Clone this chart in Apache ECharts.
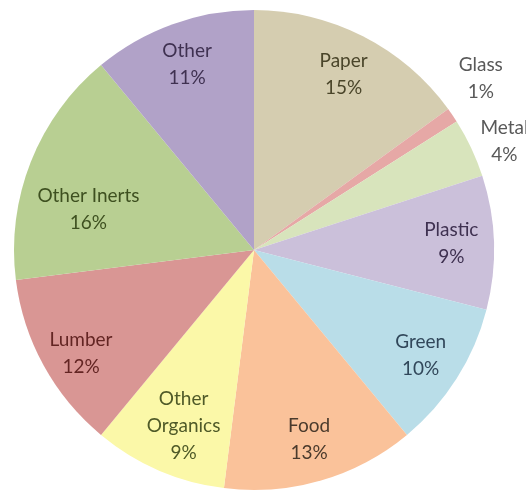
<!DOCTYPE html>
<html>
<head>
<meta charset="utf-8">
<script src="https://cdn.jsdelivr.net/npm/echarts@6/dist/echarts.min.js"></script>
<style>html,body{margin:0;padding:0;background:#fff;}#c{width:526px;height:502px;}</style>
</head>
<body>
<div id="c"></div>
<script>
const categories = ['Paper','Glass','Metal','Plastic','Green','Food','Other\nOrganics','Lumber','Other Inerts','Other'];
const values = [15,1,4,9,10,13,9,12,16,11];
const colors = ['#d5cdb0','#e6a8a6','#d8e4bc','#cbc0da','#b9dde8','#fac29a','#fbf8a8','#d99694','#b8cf92','#b1a2c8'];
const textColors = ['#4a452a','#595959','#595959','#3f3151','#31475a','#4a3a2c','#4f5a28','#632523','#3e5020','#3f3151'];
const outsideIdx = [1,2];
// small label nudges (dx, dy) matching the reference placement
const labelNudge = {1:[-4,-15], 2:[-2,10], 6:[8,-5], 7:[0,8], 8:[18,32]};

const chart = echarts.init(document.getElementById('c'));
const center = [254, 250];
const R = 240;
const base = categories.map((n,i)=>({name:n, value:values[i]}));
const font = {fontFamily:'Lato', fontSize:19, lineHeight:27};
const nudge = function(p){
  const n = labelNudge[p.dataIndex];
  return n ? {dx:n[0], dy:n[1]} : {};
};

chart.setOption({
  animation:false,
  series:[
    {
      type:'pie', center:center, radius:[0,R], startAngle:90, clockwise:true,
      label:{show:false}, labelLine:{show:false}, silent:true,
      data: base.map((d,i)=>({...d, itemStyle:{color:colors[i], borderWidth:0}}))
    },
    {
      type:'pie', center:center, radius:[R*0.62,R], startAngle:90, clockwise:true,
      silent:true, labelLine:{show:false},
      itemStyle:{color:'rgba(0,0,0,0)'},
      data: base.map((d,i)=>({...d, label:{show:!outsideIdx.includes(i), position:'inside', formatter:'{b}\n{c}%', color:textColors[i], ...font}})),
      labelLayout: nudge
    },
    {
      type:'pie', center:center, radius:[R,R*1.3], startAngle:90, clockwise:true,
      silent:true, labelLine:{show:false},
      itemStyle:{color:'rgba(0,0,0,0)'},
      data: base.map((d,i)=>({...d, label:{show:outsideIdx.includes(i), position:'inside', formatter:'{b}\n{c}%', color:textColors[i], ...font}})),
      labelLayout: nudge
    }
  ]
});
</script>
</body>
</html>
